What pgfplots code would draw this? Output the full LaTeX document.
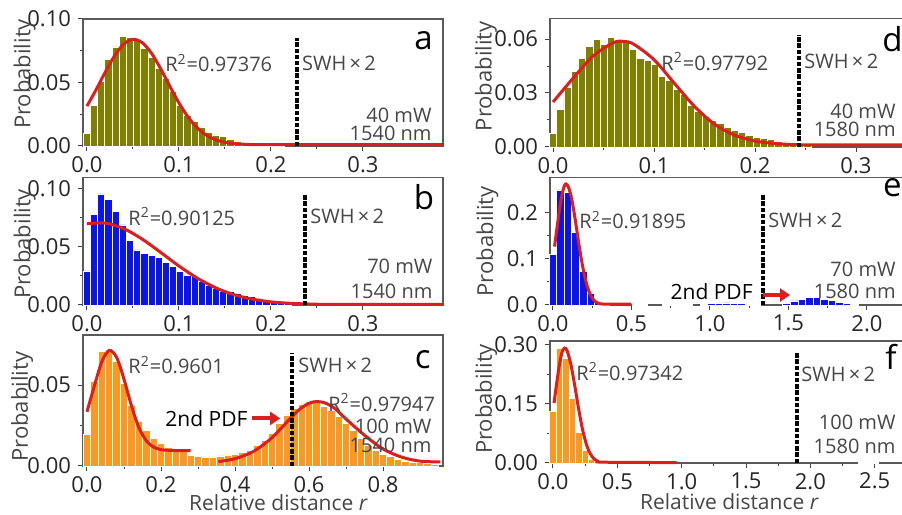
\documentclass[border=0pt]{standalone}
\usepackage{fontspec}
\setmainfont{Open Sans}
\usepackage{pgfplots}
\pgfplotsset{compat=1.18}
\usetikzlibrary{arrows.meta}
\definecolor{olv}{RGB}{128,128,0}
\definecolor{blu}{RGB}{10,20,235}
\definecolor{org}{RGB}{252,152,32}
\definecolor{fitred}{RGB}{220,30,30}
\definecolor{txtg}{RGB}{70,70,70}
\newcommand\tk{\fontsize{11}{12}\selectfont}
\newcommand\an{\fontsize{10}{12}\selectfont}
\newcommand\lt{\fontsize{16.5}{18}\selectfont}
\pgfplotsset{
 panel/.style={
  scale only axis, anchor=south west, clip=false,
  axis line style={draw=black!65, line width=0.6pt},
  tick align=outside, tick pos=left, minor tick num=1,
  major tick length=2.5pt, minor tick length=1.5pt,
  every tick/.append style={black!75, line width=0.5pt},
  tick label style={font=\tk, text=black!85},
  /pgf/number format/assume math mode=true,
  ylabel={Probability},
  ylabel style={font=\fontsize{11}{12}\selectfont, text=txtg, anchor=center},
  scaled ticks=false, ymin=0,
  xticklabel style={yshift=1pt, /pgf/number format/.cd, fixed, fixed zerofill, precision=1},
 },
 y2/.style={yticklabel style={/pgf/number format/.cd, fixed, fixed zerofill, precision=2}},
 y1/.style={yticklabel style={/pgf/number format/.cd, fixed, fixed zerofill, precision=1}},
 fit/.style={fitred, line width=1.5pt, smooth},
 swh/.style={black, line width=2pt, dash pattern=on 2.2pt off 0.9pt},
 arr/.style={fitred, line width=2pt, -{Triangle[length=5pt,width=6.5pt]}},
}
\tikzset{
 ann/.style={font=\an, text=txtg, inner sep=0pt},
 lbl/.style={font=\lt, text=black, inner sep=0pt, anchor=base},
}
\begin{document}
\begin{tikzpicture}[x=1pt,y=1pt]
\path[use as bounding box] (0,0) rectangle (451,257.5);

% ---------- a ----------
\begin{axis}[panel, y2, at={(41.5pt,184.5pt)}, width=180pt, height=63.5pt,
  xmin=-0.0043, xmax=0.387, ymax=0.100,
  xtick={0,0.1,0.2,0.3}, ytick={0,0.05,0.10},
  ylabel style={at={(axis description cs:-0.162,0.567)}}]
\addplot[ybar, bar width=0.0078, fill=olv, draw=white, line width=0.4pt] coordinates {
(0,0.010) (0.0078,0.032) (0.0156,0.051) (0.0234,0.068) (0.0312,0.078) (0.039,0.086)
(0.0468,0.0855) (0.0546,0.083) (0.0624,0.077) (0.0702,0.070) (0.078,0.061) (0.0858,0.053)
(0.0936,0.043) (0.1014,0.032) (0.1092,0.024) (0.117,0.019) (0.1248,0.015) (0.1326,0.011)
(0.1404,0.0087) (0.1482,0.0073) (0.156,0.0055) (0.1638,0.004) (0.1716,0.003) (0.1794,0.002)
(0.1872,0.0015) (0.195,0.001) (0.2028,0.0007) (0.2106,0.0005)};
\addplot[fit] coordinates {
(0,0.0314) (0.01,0.0444) (0.02,0.0583) (0.03,0.0710) (0.04,0.0802) (0.05,0.0840)
(0.06,0.0814) (0.07,0.0732) (0.08,0.0610) (0.09,0.0472) (0.10,0.0339) (0.11,0.0227)
(0.12,0.0142) (0.13,0.0085) (0.14,0.0049) (0.15,0.0029) (0.16,0.0018) (0.17,0.0014)
(0.18,0.0011) (0.20,0.001) (0.387,0.001)};
\addplot[swh] coordinates {(0.228,0) (0.228,0.0853)};
\node[ann, anchor=west] at (axis cs:0.0848,0.0654) {R\textsuperscript{2}=0.97376};
\node[ann, anchor=west] at (axis cs:0.2334,0.0654) {SWH\,×\,2};
\node[lbl] at (axis cs:0.3658,0.0756) {a};
\node[ann, anchor=base east] at (axis cs:0.375,0.0183) {40 mW};
\node[ann, anchor=base east] at (axis cs:0.375,0.0047) {1540 nm};
\end{axis}

% ---------- b ----------
\begin{axis}[panel, y2, at={(41.5pt,105pt)}, width=180pt, height=63.65pt,
  xmin=-0.0043, xmax=0.387, ymax=0.1097,
  xtick={0,0.1,0.2,0.3}, ytick={0,0.05,0.10},
  ylabel style={at={(axis description cs:-0.162,0.48)}}]
\addplot[ybar, bar width=0.0078, fill=blu, draw=white, line width=0.4pt] coordinates {
(0,0.0293) (0.0078,0.0784) (0.0156,0.0957) (0.0234,0.0911) (0.0312,0.0805) (0.039,0.069)
(0.0468,0.056) (0.0546,0.0474) (0.0624,0.0445) (0.0702,0.043) (0.078,0.041) (0.0858,0.0368)
(0.0936,0.033) (0.1014,0.0287) (0.1092,0.0259) (0.117,0.0244) (0.1248,0.0207) (0.1326,0.0172)
(0.1404,0.0144) (0.1482,0.0121) (0.156,0.0115) (0.1638,0.0100) (0.1716,0.0086) (0.1794,0.0072)
(0.1872,0.0052) (0.195,0.0034) (0.2028,0.0028) (0.2106,0.002) (0.2184,0.0015)};
\addplot[fit] coordinates {
(0,0.0700) (0.02,0.0706) (0.04,0.0658) (0.06,0.0568) (0.08,0.0454) (0.10,0.0336)
(0.12,0.0231) (0.14,0.0148) (0.16,0.0088) (0.18,0.0050) (0.20,0.0027) (0.22,0.0015)
(0.24,0.0009) (0.26,0.0006) (0.387,0.0005)};
\addplot[swh] coordinates {(0.237,0) (0.237,0.0948)};
\node[ann, anchor=west] at (axis cs:0.0446,0.0761) {R\textsuperscript{2}=0.90125};
\node[ann, anchor=west] at (axis cs:0.2424,0.0761) {SWH\,×\,2};
\node[lbl] at (axis cs:0.3663,0.0819) {b};
\node[ann, anchor=base east] at (axis cs:0.376,0.0273) {70 mW};
\node[ann, anchor=base east] at (axis cs:0.376,0.0058) {1540 nm};
\end{axis}

% ---------- c ----------
\begin{axis}[panel, y2, at={(41.5pt,24.5pt)}, width=180pt, height=65.5pt,
  xmin=-0.0108, xmax=0.962, ymax=0.0809,
  xtick={0,0.2,0.4,0.6,0.8}, ytick={0,0.05},
  ylabel style={at={(axis description cs:-0.169,0.453)}},
  xlabel={Relative distance \textit{r}},
  xlabel style={font=\fontsize{10.5}{12}\selectfont, text=txtg, at={(axis description cs:0.543,0)}, anchor=base, yshift=-22.3pt}]
\addplot[ybar, bar width=0.02, fill=org, draw=white, line width=0.4pt] coordinates {
(0,0.0198) (0.02,0.052) (0.04,0.0706) (0.06,0.0706) (0.08,0.0644) (0.10,0.051)
(0.12,0.0377) (0.14,0.0274) (0.16,0.0222) (0.18,0.0171) (0.20,0.014) (0.22,0.0115)
(0.24,0.0099) (0.26,0.0088) (0.28,0.0068) (0.30,0.0058) (0.32,0.0053) (0.34,0.0053)
(0.36,0.0062) (0.38,0.0068) (0.40,0.0074) (0.42,0.0082) (0.44,0.0099) (0.46,0.013)
(0.48,0.016) (0.50,0.020) (0.52,0.0263) (0.54,0.0315) (0.56,0.0356) (0.58,0.0383)
(0.60,0.0397) (0.62,0.0391) (0.64,0.0366) (0.66,0.0346) (0.68,0.0305) (0.70,0.0263)
(0.72,0.0222) (0.74,0.0171) (0.76,0.013) (0.78,0.0099) (0.80,0.0074) (0.82,0.0058)
(0.84,0.0041) (0.86,0.0031) (0.88,0.0025) (0.90,0.002) (0.92,0.0016) (0.94,0.0012)};
\addplot[fit] coordinates {
(0,0.0335) (0.02,0.0495) (0.04,0.0643) (0.06,0.0714) (0.08,0.0671) (0.10,0.0536)
(0.12,0.0373) (0.14,0.0239) (0.16,0.0157) (0.18,0.0117) (0.20,0.0101) (0.22,0.0097)
(0.25,0.0095) (0.28,0.0095)};
\addplot[fit] coordinates {
(0.355,0.0027) (0.40,0.0045) (0.45,0.009) (0.50,0.0175) (0.55,0.0295) (0.58,0.036)
(0.61,0.0395) (0.64,0.0392) (0.67,0.0355) (0.70,0.029) (0.75,0.019) (0.80,0.0105)
(0.85,0.0055) (0.90,0.003) (0.955,0.0025)};
\addplot[swh] coordinates {(0.555,0) (0.555,0.0696)};
\addplot[arr] coordinates {(0.446,0.0294) (0.522,0.0294)};
\node[ann, anchor=west] at (axis cs:0.111,0.0623) {R\textsuperscript{2}=0.9601};
\node[ann, anchor=west] at (axis cs:0.570,0.0623) {SWH\,×\,2};
\node[ann, anchor=west] at (axis cs:0.651,0.0392) {R\textsuperscript{2}=0.97947};
\node[font=\fontsize{10.5}{12}\selectfont, text=black, inner sep=0pt, anchor=west] at (axis cs:0.211,0.0294) {2nd PDF};
\node[lbl] at (axis cs:0.907,0.0603) {c};
\node[ann, anchor=base east] at (axis cs:0.932,0.0200) {100 mW};
\node[ann, anchor=base east] at (axis cs:0.932,0.0086) {1540 nm};
\end{axis}

% ---------- d ----------
\begin{axis}[panel, y2, at={(275pt,184pt)}, width=188.35pt, height=64.35pt,
  xmin=-0.003, xmax=0.37, ymax=0.0715,
  xtick={0,0.1,0.2,0.3}, ytick={0,0.03,0.06},
  ylabel style={at={(axis description cs:-0.17,0.55)}}]
\addplot[ybar, bar width=0.0072, fill=olv, draw=white, line width=0.4pt] coordinates {
(0,0.0075) (0.0072,0.021) (0.0144,0.033) (0.0216,0.042) (0.0288,0.049) (0.036,0.056)
(0.0432,0.060) (0.0504,0.057) (0.0576,0.061) (0.0648,0.059) (0.072,0.058) (0.0792,0.054)
(0.0864,0.049) (0.0936,0.048) (0.1008,0.046) (0.108,0.039) (0.1152,0.037) (0.1224,0.032)
(0.1296,0.029) (0.1368,0.023) (0.144,0.020) (0.1512,0.017) (0.1584,0.015) (0.1656,0.013)
(0.1728,0.011) (0.18,0.009) (0.1872,0.008) (0.1944,0.0065) (0.2016,0.0055) (0.2088,0.0045)
(0.216,0.004) (0.2232,0.0032) (0.2304,0.0028) (0.2376,0.0022) (0.2448,0.0018) (0.252,0.0012)};
\addplot[fit] coordinates {
(0,0.0250) (0.02,0.0383) (0.04,0.0507) (0.06,0.0580) (0.07,0.0587) (0.08,0.0571)
(0.10,0.0485) (0.12,0.0355) (0.14,0.0226) (0.16,0.0126) (0.18,0.0065) (0.20,0.0033)
(0.22,0.0019) (0.24,0.0013) (0.26,0.0012) (0.37,0.0012)};
\addplot[swh] coordinates {(0.244,0) (0.244,0.0622)};
\node[ann, anchor=west] at (axis cs:0.107,0.0474) {R\textsuperscript{2}=0.97792};
\node[ann, anchor=west] at (axis cs:0.2485,0.0474) {SWH\,×\,2};
\node[lbl] at (axis cs:0.336,0.0529) {d};
\node[ann, anchor=base east] at (axis cs:0.3396,0.0161) {40 mW};
\node[ann, anchor=base east] at (axis cs:0.3396,0.0057) {1580 nm};
\end{axis}

% ---------- e ----------
\begin{axis}[panel, y1, at={(275pt,105pt)}, width=189.9pt, height=63.65pt,
  xmin=-0.0191, xmax=2.4, ymax=0.2767,
  xtick={0,0.5,1.0,1.5,2.0}, ytick={0,0.1,0.2},
  ylabel style={at={(axis description cs:-0.165,0.5)}}]
\addplot[ybar, bar width=0.048, fill=blu, draw=white, line width=0.4pt] coordinates {
(0,0.109) (0.048,0.250) (0.096,0.245) (0.144,0.157) (0.192,0.072) (0.24,0.026)
(0.288,0.006) (0.336,0.002) (0.528,0.001) (0.576,0.0008) (0.72,0.0015) (0.768,0.002)
(0.816,0.002) (0.864,0.0015) (0.96,0.002) (1.008,0.003) (1.056,0.004) (1.104,0.0045)
(1.152,0.004) (1.2,0.003) (1.248,0.002) (1.296,0.001) (1.488,0.0036) (1.536,0.0087)
(1.584,0.013) (1.632,0.016) (1.68,0.016) (1.728,0.013) (1.776,0.0094) (1.824,0.0058)
(1.872,0.003) (1.92,0.0015)};
\addplot[fit] coordinates {
(0.01,0.127) (0.03,0.179) (0.05,0.227) (0.07,0.257) (0.083,0.263) (0.10,0.255)
(0.12,0.229) (0.14,0.189) (0.16,0.1436) (0.18,0.1007) (0.20,0.0651) (0.22,0.0387)
(0.24,0.0213) (0.26,0.0108) (0.28,0.005) (0.30,0.0025) (0.35,0.002) (0.50,0.002)};
\addplot[swh] coordinates {(1.335,0) (1.335,0.239)};
\addplot[arr] coordinates {(1.34,0.0217) (1.51,0.0217)};
\node[ann, anchor=west] at (axis cs:0.166,0.185) {R\textsuperscript{2}=0.91895};
\node[ann, anchor=west] at (axis cs:1.37,0.185) {SWH\,×\,2};
\node[font=\fontsize{10.5}{12}\selectfont, text=black, inner sep=0pt, anchor=base east] at (axis cs:1.274,0.011) {2nd PDF};
\node[lbl] at (axis cs:2.162,0.2354) {e};
\node[ann, anchor=base east] at (axis cs:2.185,0.0615) {70 mW};
\node[ann, anchor=base east] at (axis cs:2.185,0.0146) {1580 nm};
\end{axis}

% ---------- f ----------
\begin{axis}[panel, y2, at={(275pt,26pt)}, width=188.1pt, height=61pt,
  xmin=-0.0233, xmax=2.9, ymax=0.31,
  xtick={0,0.5,1.0,1.5,2.0,2.5}, ytick={0,0.15,0.30},
  ylabel style={at={(axis description cs:-0.17,0.525)}},
  xlabel={Relative distance \textit{r}},
  xlabel style={font=\fontsize{10.5}{12}\selectfont, text=txtg, at={(axis description cs:0.477,0)}, anchor=base, yshift=-23.5pt}]
\addplot[ybar, bar width=0.05, fill=org, draw=white, line width=0.4pt] coordinates {
(0,0.132) (0.05,0.292) (0.10,0.266) (0.15,0.164) (0.20,0.077) (0.25,0.031)
(0.30,0.010) (0.35,0.0034) (0.40,0.001) (2.40,0.0015) (2.45,0.002) (2.50,0.0015)};
\addplot[fit] coordinates {
(0.008,0.152) (0.03,0.206) (0.05,0.250) (0.07,0.281) (0.09,0.292) (0.11,0.285)
(0.14,0.249) (0.17,0.195) (0.20,0.136) (0.23,0.0845) (0.26,0.047) (0.29,0.0232)
(0.32,0.0102) (0.35,0.004) (0.40,0.002) (0.96,0.001)};
\addplot[swh] coordinates {(1.894,0) (1.894,0.283)};
\node[ann, anchor=west] at (axis cs:0.179,0.232) {R\textsuperscript{2}=0.97342};
\node[ann, anchor=west] at (axis cs:1.927,0.224) {SWH\,×\,2};
\node[lbl] at (axis cs:2.626,0.2366) {f};
\node[ann, anchor=base east] at (axis cs:2.665,0.084) {100 mW};
\node[ann, anchor=base east] at (axis cs:2.665,0.0254) {1580 nm};
\end{axis}
\end{tikzpicture}
\end{document}
